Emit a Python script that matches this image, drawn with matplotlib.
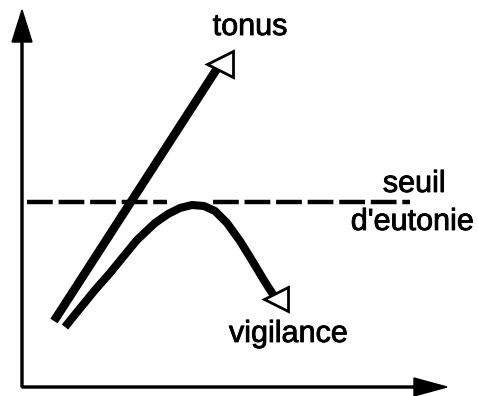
import numpy as np
import matplotlib
matplotlib.use("Agg")
import matplotlib.pyplot as plt
import matplotlib.patheffects as pe

# schematic curves, units roughly in pixels from the origin of the axes
tonus_x = [32, 198]
tonus_y = [66, 323]

vig_x = [43, 51, 73, 88, 101, 115, 133, 146, 158, 170, 182, 193, 205, 218, 231, 243, 254]
vig_y = [60, 70, 97, 114, 130, 147, 164, 173, 179, 182, 181, 176, 164, 146, 125, 105, 88]

seuil_x = [5, 145, np.nan, 191, 388]
seuil_y = [185, 185, np.nan, 185, 185]

x_axis_end = 425
y_axis_end = 377

plt.rcParams['font.family'] = ['Liberation Sans', 'DejaVu Sans']

fig = plt.figure(figsize=(4.78, 3.96), dpi=100)
ax = fig.add_axes([0, 0, 1, 1])
ax.set_xlim(-22, 456)
ax.set_ylim(-9, 387)
ax.axis('off')

# axes with filled arrowheads
ax.arrow(0, 0, 0, y_axis_end, width=2, head_width=20, head_length=32,
         length_includes_head=True, fc='black', ec='black')
ax.arrow(0, 0, x_axis_end, 0, width=2, head_width=18, head_length=33,
         length_includes_head=True, fc='black', ec='black')

# threshold
ax.plot(seuil_x, seuil_y, color='black', lw=3.2, dashes=(5.8, 1.3),
        solid_capstyle='butt', dash_capstyle='butt')

# tonus and vigilance with open triangle heads
ax.plot(tonus_x, tonus_y, color='black', lw=6.2, solid_capstyle='butt',
        marker='<', markevery=[-1], ms=19, mfc='white', mec='black', mew=2)
ax.plot(vig_x, vig_y, color='black', lw=5.8, solid_capstyle='butt',
        solid_joinstyle='round',
        marker='<', markevery=[-1], ms=17, mfc='white', mec='black', mew=2)

# scanned print looks a little heavier than regular weight
bold = [pe.withStroke(linewidth=0.6, foreground='black')]
ax.text(228, 352, 'tonus', fontsize=22, ha='center', va='baseline', path_effects=bold)
ax.text(392, 195, 'seuil', fontsize=22, ha='center', va='baseline', path_effects=bold)
ax.text(390, 157, "d'eutonie", fontsize=22, ha='center', va='baseline', path_effects=bold)
ax.text(266, 45, 'vigilance', fontsize=22, ha='center', va='baseline', path_effects=bold)

fig.savefig('out.png', dpi=100)
